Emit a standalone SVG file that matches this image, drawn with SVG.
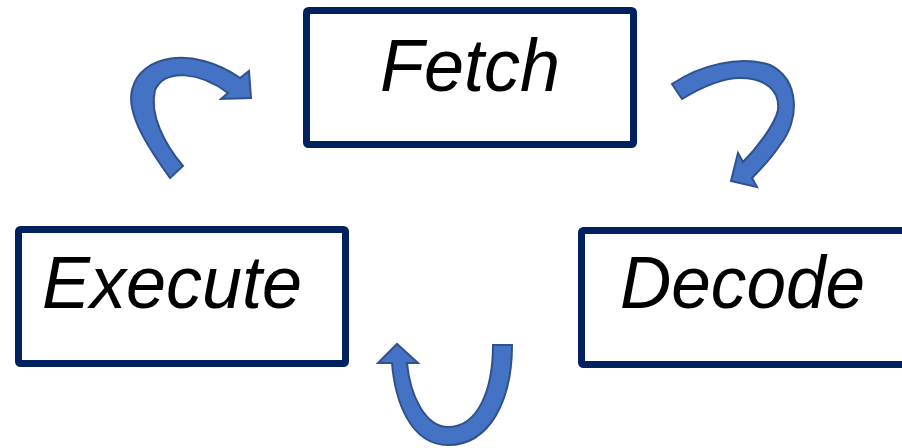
<svg xmlns="http://www.w3.org/2000/svg" width="902" height="448" viewBox="0 0 902 448">
<style>
.box{fill:#fff;stroke:#002060;stroke-width:7;}
.lbl{font-family:"Liberation Sans",Arial,sans-serif;font-style:italic;font-size:74px;fill:#000;}
.arr{fill:#4472C4;stroke:#2F528F;stroke-width:2;stroke-linejoin:miter;}
</style>
<rect width="902" height="448" fill="#fff"/>
<g id="fetch">
<rect class="box" x="306.5" y="10.5" width="327" height="134" rx="2"/>
<text class="lbl" x="380" y="91" textLength="180" lengthAdjust="spacingAndGlyphs">Fetch</text>
</g>
<g id="execute">
<rect class="box" x="18.5" y="229.5" width="327" height="134" rx="2"/>
<text class="lbl" x="42" y="308" textLength="260" lengthAdjust="spacingAndGlyphs">Execute</text>
</g>
<g id="decode">
<rect class="box" x="581.5" y="230.5" width="335" height="134" rx="2"/>
<text class="lbl" x="620" y="308" textLength="245" lengthAdjust="spacingAndGlyphs">Decode</text>
</g>
<g id="connectors">
<path class="arr" d="M170,178 C150,150 126,115 132,90 C140,55 192,45 240,78 L249,71 L251,98 L221,99 L228,93 C200,72 165,68 155,90 C149,115 165,145 183,166 Z"/>
<path class="arr" d="M672,84 C700,65 740,55 770,65 C800,80 800,120 780,145 C770,160 760,170 752,178 L757,187 L731,181 L738,153 L743,162 C755,150 775,125 778,110 C780,90 765,78 740,78 C720,78 700,88 682,99 Z"/>
<path class="arr" d="M512,345 C512,400 490,445 448,445 C410,445 395,400 392,363 L378,363 L397,344 L418,363 L407,363 C410,395 425,427 448,427 C478,427 493,390 493,345 Z"/>
</g>
</svg>
